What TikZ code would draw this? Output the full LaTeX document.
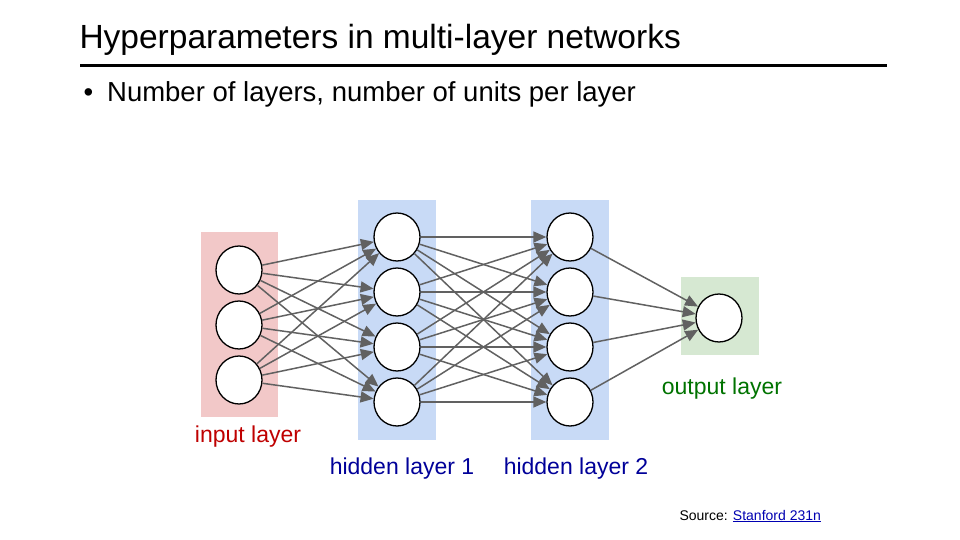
\documentclass[tikz,border=0pt]{standalone}
\usepackage{fontspec}
\setmainfont{Liberation Sans}
\usetikzlibrary{arrows.meta,shapes.geometric}
\definecolor{inbox}{HTML}{F2C8C8}
\definecolor{hidbox}{HTML}{C8DAF6}
\definecolor{outbox}{HTML}{D6E8D2}
\begin{document}
\begin{tikzpicture}[x=1pt,y=-1pt,
  neuron/.style={draw=black,line width=1.3pt,fill=white,ellipse,minimum width=46pt,minimum height=48pt,inner sep=0pt},
  edge/.style={draw=black!62,line width=1.5pt,-{Triangle[length=13pt,width=11pt]}},
  lbl/.style={font=\fontsize{23}{27}\selectfont,anchor=center}]
\useasboundingbox (0,0) rectangle (960,540);
\fill[white] (0,0) rectangle (960,540);
\node[anchor=west,font=\fontsize{33.5}{40}\selectfont] (title) at (76,40) {Hyperparameters in multi-layer networks};
\draw[line width=3pt] (80,66) -- (887,66);
\node[anchor=west,font=\fontsize{27.5}{33}\selectfont] (bul) at (80,94) {\textbullet\hspace{14pt}Number of layers, number of units per layer};
\fill[inbox] (201,232) rectangle (278,417);
\fill[hidbox] (358,200) rectangle (436,440);
\fill[hidbox] (531,200) rectangle (609,440);
\fill[outbox] (681,277) rectangle (759,355);
\foreach \i/\y in {1/270,2/325,3/380} \node[neuron] (i\i) at (239,\y) {};
\foreach \i/\y in {1/237,2/292,3/347,4/402} {
  \node[neuron] (a\i) at (397,\y) {};
  \node[neuron] (b\i) at (570,\y) {};}
\node[neuron] (o) at (719,318) {};
\foreach \s in {1,2,3} \foreach \t in {1,2,3,4} \draw[edge] (i\s) -- (a\t);
\foreach \s in {1,2,3,4} \foreach \t in {1,2,3,4} \draw[edge] (a\s) -- (b\t);
\foreach \s in {1,2,3,4} \draw[edge] (b\s) -- (o);
\node[lbl,text=red!75!black] (li) at (248,437) {input layer};
\node[lbl,text=blue!60!black] (lh1) at (402,469) {hidden layer 1};
\node[lbl,text=blue!60!black] (lh2) at (576,469) {hidden layer 2};
\node[lbl,text=green!45!black] (lo) at (722,389) {output layer};
\node[anchor=west,font=\fontsize{14}{16}\selectfont] (src) at (676,516) {Source: \textcolor{blue!70!black}{\underline{Stanford 231n}}};
\end{tikzpicture}
\end{document}
